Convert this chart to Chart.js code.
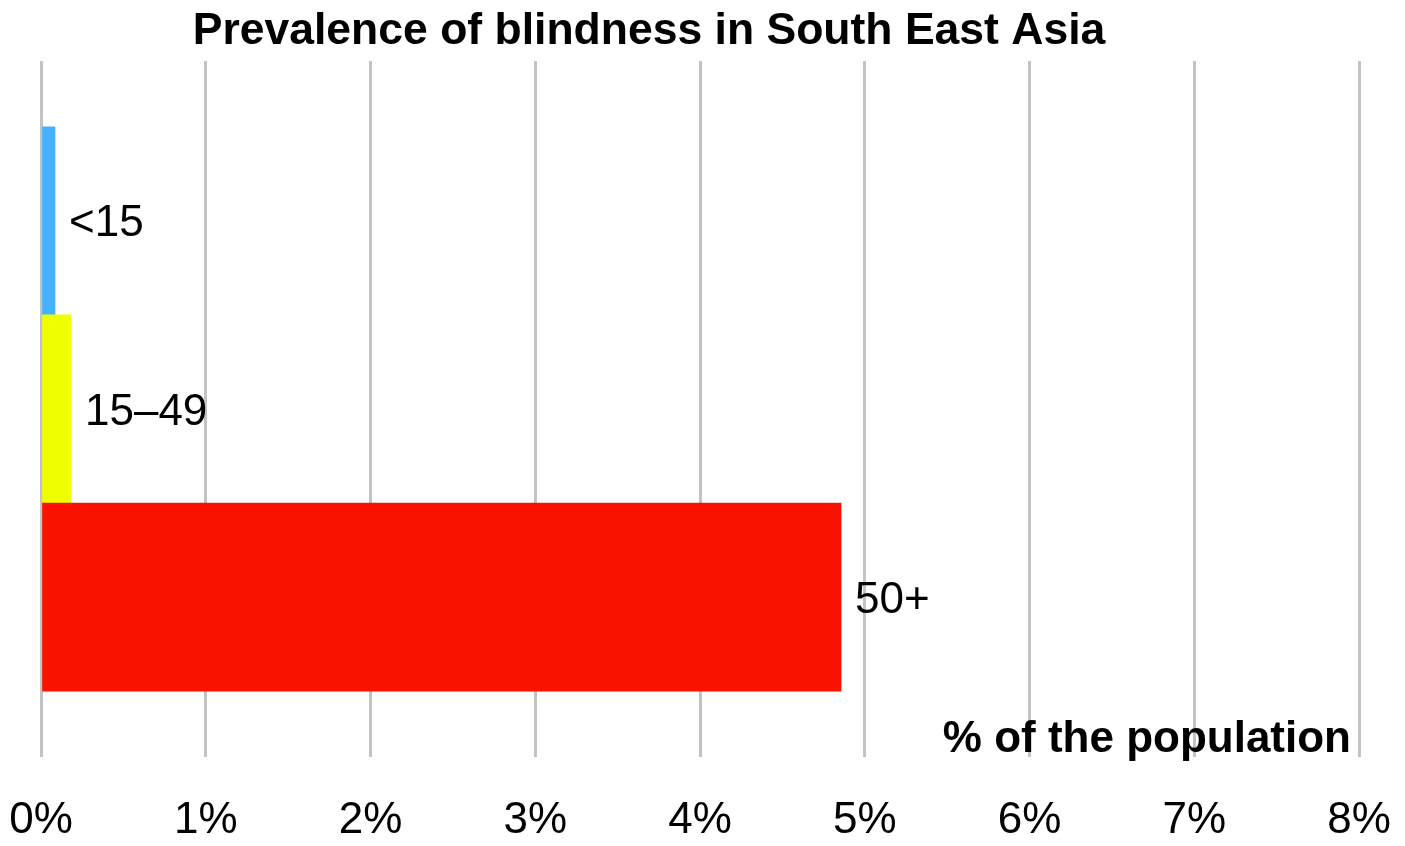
<!DOCTYPE html>
<html>
<head>
<meta charset="utf-8">
<script src="https://cdn.jsdelivr.net/npm/chart.js@4/dist/chart.umd.min.js"></script>
<style>
  html, body { margin: 0; padding: 0; background: #ffffff; }
  #wrap { width: 1405px; height: 846px; }
</style>
</head>
<body>
<div id="wrap"><canvas id="c" width="1405" height="846"></canvas></div>
<script>
// ---- data ----
const chartTitle = 'Prevalence of blindness in South East Asia';
const axisTitle = '% of the population';
const categories = ['<15', '15–49', '50+'];
const prevalence = [0.085, 0.182, 4.856];   // % of the population
const barColors = ['#44b2ff', '#f0ff00', '#fa1400'];
const xTicks = [0, 1, 2, 3, 4, 5, 6, 7, 8];

const FONT = "'Liberation Sans', Arial, Helvetica, sans-serif";

const labelPlugin = {
  id: 'customText',
  afterDatasetsDraw(chart) {
    const ctx = chart.ctx;
    const meta = chart.getDatasetMeta(0);
    ctx.save();
    ctx.fillStyle = '#000000';
    ctx.font = '44px ' + FONT;
    ctx.textAlign = 'left';
    ctx.textBaseline = 'alphabetic';
    meta.data.forEach((bar, i) => {
      ctx.fillText(categories[i], bar.x + 14, bar.y + 15.5);
    });
    const area = chart.chartArea;
    ctx.font = 'bold 44px ' + FONT;
    ctx.textAlign = 'right';
    ctx.fillText(axisTitle, area.right - 8, area.bottom - 5);
    ctx.font = 'bold 44.5px ' + FONT;
    ctx.textAlign = 'center';
    ctx.fillText(chartTitle, 649, 44);
    ctx.restore();
  }
};

new Chart(document.getElementById('c'), {
  type: 'bar',
  data: {
    datasets: [{
      data: prevalence.map((v, i) => ({ x: v, y: i })),
      backgroundColor: barColors,
      borderWidth: 0,
      barPercentage: 1,
      categoryPercentage: 1
    }]
  },
  options: {
    indexAxis: 'y',
    responsive: false,
    animation: false,
    layout: { padding: { left: 41, right: 46, top: 61, bottom: 0 } },
    plugins: {
      legend: { display: false },
      title: { display: false },
      tooltip: { enabled: false }
    },
    scales: {
      x: {
        type: 'linear',
        position: 'bottom',
        min: xTicks[0],
        max: xTicks[xTicks.length - 1],
        afterBuildTicks: (axis) => { axis.ticks = xTicks.map(v => ({ value: v })); },
        afterFit: (axis) => { axis.height = 89; axis.paddingLeft = 0; axis.paddingRight = 0; },
        border: { display: false },
        grid: { color: '#c3c3c3', lineWidth: 3, drawTicks: false },
        ticks: {
          padding: 41.5,
          color: '#000000',
          font: { family: FONT, size: 44, lineHeight: 1 },
          callback: (v) => v + '%',
          maxRotation: 0
        }
      },
      y: {
        type: 'linear',
        display: false,
        reverse: true,
        min: -0.85,
        max: 2.85,
        afterBuildTicks: (axis) => { axis.ticks = []; },
        grid: { display: false }
      }
    }
  },
  plugins: [labelPlugin]
});
</script>
</body>
</html>
